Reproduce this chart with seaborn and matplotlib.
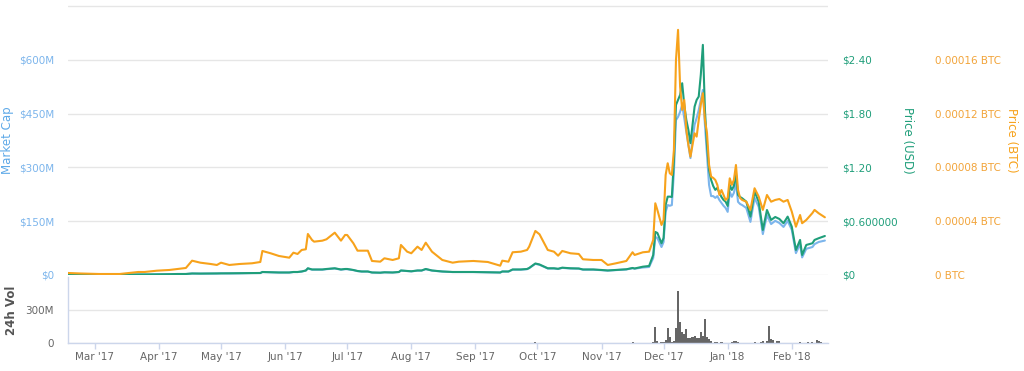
import pandas as pd
import numpy as np
import matplotlib
matplotlib.use("Agg")
import matplotlib.pyplot as plt
import matplotlib.dates as mdates
import seaborn as sns

# --- data ---
dates = [
    "2017-02-16", "2017-02-22", "2017-03-03", "2017-03-13", "2017-03-22", "2017-03-25", "2017-03-31",
    "2017-04-06", "2017-04-10", "2017-04-14", "2017-04-17", "2017-04-21", "2017-04-26", "2017-04-29",
    "2017-05-01", "2017-05-05", "2017-05-10", "2017-05-16", "2017-05-20", "2017-05-21", "2017-05-25", "2017-05-29",
    "2017-06-03", "2017-06-05", "2017-06-07", "2017-06-09", "2017-06-11", "2017-06-12", "2017-06-14",
    "2017-06-15", "2017-06-19", "2017-06-21", "2017-06-25", "2017-06-28", "2017-06-30",
    "2017-07-01", "2017-07-04", "2017-07-06", "2017-07-08", "2017-07-11", "2017-07-13", "2017-07-17",
    "2017-07-19", "2017-07-23", "2017-07-26", "2017-07-27", "2017-07-30",
    "2017-08-01", "2017-08-04", "2017-08-06", "2017-08-08", "2017-08-11", "2017-08-16", "2017-08-21",
    "2017-08-24", "2017-08-31",
    "2017-09-07", "2017-09-13", "2017-09-14", "2017-09-17", "2017-09-19", "2017-09-23", "2017-09-26",
    "2017-09-27", "2017-09-30",
    "2017-10-02", "2017-10-06", "2017-10-09", "2017-10-11", "2017-10-13", "2017-10-17", "2017-10-21",
    "2017-10-23", "2017-10-28",
    "2017-11-01", "2017-11-04", "2017-11-08", "2017-11-13", "2017-11-16", "2017-11-17", "2017-11-21",
    "2017-11-24", "2017-11-26", "2017-11-27", "2017-11-28", "2017-11-30",
    "2017-12-01", "2017-12-02", "2017-12-03", "2017-12-04", "2017-12-05", "2017-12-06", "2017-12-07",
    "2017-12-08", "2017-12-09", "2017-12-10", "2017-12-11", "2017-12-12", "2017-12-13", "2017-12-14",
    "2017-12-15", "2017-12-16", "2017-12-17", "2017-12-18", "2017-12-19", "2017-12-20", "2017-12-21",
    "2017-12-22", "2017-12-23", "2017-12-24", "2017-12-25", "2017-12-26", "2017-12-27", "2017-12-28",
    "2017-12-29", "2017-12-30", "2017-12-31",
    "2018-01-01", "2018-01-02", "2018-01-03", "2018-01-04", "2018-01-05", "2018-01-06", "2018-01-07",
    "2018-01-08", "2018-01-10", "2018-01-12", "2018-01-14", "2018-01-16", "2018-01-18", "2018-01-20",
    "2018-01-22", "2018-01-24", "2018-01-26", "2018-01-28", "2018-01-30",
    "2018-02-01", "2018-02-03", "2018-02-05", "2018-02-06", "2018-02-08", "2018-02-11", "2018-02-12",
    "2018-02-14", "2018-02-17",
]

# market cap in millions of USD
market_cap_m = [
    1.1, 1.1, 0.9, 0.9, 1.1, 1.4, 1.6,
    2.2, 2.7, 2.7, 4.0, 3.8, 4.0, 4.0,
    4.6, 4.3, 4.6, 5.4, 5.4, 8.1, 7.3, 6.8,
    6.8, 8.1, 8.1, 9.5, 12.2, 18.1, 14.9, 14.9, 14.9, 16.2, 18.1, 14.9, 16.2,
    16.2, 13.5, 10.8, 9.5, 9.5, 6.8, 6.2, 7.3, 6.8, 8.1, 12.2, 10.8,
    10.0, 12.2, 12.2, 16.2, 12.2, 9.5, 8.1, 8.1, 8.1,
    7.3, 6.8, 9.5, 9.5, 14.9, 14.9, 16.2, 18.9, 31.1,
    28.4, 18.1, 18.1, 16.7, 19.7, 18.1, 17.6, 14.9, 14.9,
    13.5, 12.2, 13.5, 15.4, 18.9, 17.6, 20.9, 22.3, 47.4, 106, 103, 78,
    92, 176, 195, 193, 195, 287, 432, 441, 455, 474, 438, 399, 363, 326, 377, 419,
    438, 460, 488, 516, 419, 335, 251, 220, 220, 215, 220, 209, 201, 193, 187,
    176, 232, 218, 229, 259, 204, 198, 195, 187, 148, 215, 190, 114, 167, 142, 151, 145, 134, 151,
    126, 61, 86, 49, 73, 78, 86, 92, 96,
]

price_usd = [
    0.0045, 0.0045, 0.0039, 0.0039, 0.0045, 0.0056, 0.0067,
    0.0089, 0.0112, 0.0112, 0.0167, 0.0156, 0.0167, 0.0167,
    0.0190, 0.0179, 0.0190, 0.0223, 0.0223, 0.0335, 0.0301, 0.0279,
    0.0279, 0.0335, 0.0335, 0.0391, 0.0502, 0.0748, 0.0614, 0.0614, 0.0614, 0.0670, 0.0748, 0.0614, 0.0670,
    0.0670, 0.0558, 0.0446, 0.0391, 0.0391, 0.0279, 0.0257, 0.0301, 0.0279, 0.0335, 0.0502, 0.0446,
    0.0413, 0.0502, 0.0502, 0.0670, 0.0502, 0.0391, 0.0335, 0.0335, 0.0335,
    0.0301, 0.0279, 0.0391, 0.0391, 0.0614, 0.0614, 0.0670, 0.0781, 0.1283,
    0.1172, 0.0748, 0.0748, 0.0692, 0.0815, 0.0748, 0.0725, 0.0614, 0.0614,
    0.0558, 0.0502, 0.0558, 0.0636, 0.0781, 0.0725, 0.0926, 0.1004, 0.2232, 0.480, 0.469, 0.354,
    0.413, 0.781, 0.874, 0.874, 0.870, 1.283, 1.897, 1.953, 2.009, 2.139, 1.897, 1.730, 1.618, 1.470,
    1.674, 1.878, 1.953, 1.990, 2.232, 2.567, 1.841, 1.451, 1.172, 1.060, 0.993, 0.949, 0.971, 0.915,
    0.870, 0.837, 0.818,
    0.770, 1.004, 0.949, 0.993, 1.135, 0.893, 0.870, 0.856, 0.818, 0.651, 0.930, 0.818, 0.502, 0.725,
    0.614, 0.647, 0.625, 0.577, 0.651,
    0.539, 0.279, 0.391, 0.223, 0.335, 0.354, 0.391, 0.410, 0.435,
]

# price in satoshi (1e-8 BTC)
price_sat = [
    149, 112, 74, 74, 223, 223, 320,
    372, 446, 521, 1064, 915, 818, 744,
    915, 744, 818, 870, 967, 1786, 1614, 1414,
    1287, 1659, 1562, 1860, 1912, 3050, 2604, 2478, 2552, 2656, 3147, 2552, 2976,
    2976, 2358, 1808, 1808, 1808, 1042, 990, 1242, 1116, 1242, 2232, 1734,
    1614, 2106, 1860, 2403, 1734, 1116, 915, 990, 1042,
    967, 692, 1064, 990, 1689, 1734, 1860, 2106, 3274,
    3028, 1860, 1734, 1436, 1786, 1614, 1562, 1168, 1116,
    1116, 744, 870, 1042, 1689, 1488, 1689, 1734, 2604, 5334, 4836, 3720,
    4092, 7440, 8310, 7566, 7440, 9300, 16000, 18230, 14010, 12280, 13020, 10790, 9670, 8800,
    9670, 10540, 10290, 11530, 12650, 13520, 11530, 10540, 8180, 7310, 7220, 7070, 6700, 5950,
    6320, 5950, 5580,
    5730, 7190, 6700, 7070, 8180, 6320, 5730, 5580, 5450, 4840, 6450, 5830, 4840, 5950,
    5450, 5580, 5650, 5450, 5580,
    4710, 3590, 4460, 3850, 4090, 4610, 4840, 4590, 4290,
]

# 24h volume bars that are visible (millions)
vol_dates = [
    "2017-09-30", "2017-11-16", "2017-11-26", "2017-11-27", "2017-11-28", "2017-11-30", "2017-12-01",
    "2017-12-02", "2017-12-03", "2017-12-04", "2017-12-05", "2017-12-06", "2017-12-07", "2017-12-08",
    "2017-12-09", "2017-12-10", "2017-12-11", "2017-12-12", "2017-12-13", "2017-12-14", "2017-12-15",
    "2017-12-16", "2017-12-17", "2017-12-18", "2017-12-19", "2017-12-20", "2017-12-21", "2017-12-22",
    "2017-12-23", "2017-12-24", "2017-12-26", "2017-12-27", "2017-12-29", "2018-01-03", "2018-01-04",
    "2018-01-05", "2018-01-06", "2018-01-14", "2018-01-17", "2018-01-18", "2018-01-20", "2018-01-21",
    "2018-01-22", "2018-01-23", "2018-01-25", "2018-01-26", "2018-02-05", "2018-02-09", "2018-02-11",
    "2018-02-13", "2018-02-14", "2018-02-15",
]
vol_m = [
    5, 6, 10, 147, 20, 5, 8,
    25, 132, 55, 10, 20, 132, 468,
    193, 101, 78, 122, 40, 40, 55,
    60, 40, 40, 101, 60, 214, 55,
    30, 15, 6, 6, 4, 10, 18,
    15, 6, 6, 10, 15, 12, 156,
    30, 25, 18, 15, 6, 4, 10,
    25, 15, 4,
]

# --- styling ---
BLUE = "#7cb5ec"
GREEN = "#1f9e7a"
ORANGE = "#f7a21b"
GRID = "#e6e6e6"
AXIS = "#ccd6eb"

sns.set_style("white")
plt.rcParams["font.family"] = ["DejaVu Sans"]

df = pd.DataFrame({"date": pd.to_datetime(dates), "mcap": market_cap_m,
                   "usd": price_usd, "sat": price_sat})
vol = pd.DataFrame({"date": pd.to_datetime(vol_dates), "vol": vol_m})

x0 = pd.Timestamp("2017-02-16")
x1 = pd.Timestamp("2018-02-18 10:00")

fig = plt.figure(figsize=(10.24, 3.71), dpi=100)
ax = fig.add_axes([0.0664, 0.2588, 0.742, 0.7278])
ax_usd = ax.twinx()
ax_btc = ax.twinx()
ax_vol = fig.add_axes([0.0664, 0.0763, 0.742, 0.177])

sns.lineplot(data=df, x="date", y="mcap", ax=ax, color=BLUE, linewidth=1.5)
sns.lineplot(data=df, x="date", y="usd", ax=ax_usd, color=GREEN, linewidth=1.5)
sns.lineplot(data=df, x="date", y="sat", ax=ax_btc, color=ORANGE, linewidth=1.5)

for a in (ax, ax_usd, ax_btc):
    a.set_xlim(x0, x1)
    a.set_xlabel("")
    a.tick_params(axis="x", bottom=False, labelbottom=False)
    for s in a.spines.values():
        s.set_visible(False)

# market cap axis
ax.set_ylim(0, 753)
ax.set_yticks([0, 150, 300, 450, 600, 750])
ax.set_yticklabels(["$0", "$150M", "$300M", "$450M", "$600M", ""])
ax.tick_params(axis="y", length=0, pad=10, labelsize=7.5, labelcolor=BLUE)
ax.grid(axis="y", color=GRID, linewidth=1)
ax.set_ylabel("Market Cap", color="#5ea9e8", fontsize=8.5)
ax.yaxis.set_label_coords(-0.071, 0.5)

# price USD axis
ax_usd.set_ylim(0, 3.012)
ax_usd.set_yticks([0, 0.6, 1.2, 1.8, 2.4])
ax_usd.set_yticklabels(["$0", "$0.600000", "$1.20", "$1.80", "$2.40"])
ax_usd.tick_params(axis="y", length=0, pad=10, labelsize=7.5, labelcolor=GREEN)
ax_usd.set_ylabel("Price (USD)", color=GREEN, fontsize=8.5, rotation=270, va="center")
ax_usd.yaxis.set_label_coords(1.105, 0.5)

# price BTC axis
ax_btc.set_ylim(0, 20080)
ax_btc.set_yticks([0, 4000, 8000, 12000, 16000])
ax_btc.set_yticklabels(["0 BTC", "0.00004 BTC", "0.00008 BTC", "0.00012 BTC", "0.00016 BTC"])
ax_btc.tick_params(axis="y", length=0, pad=77, labelsize=7.5, labelcolor="#f2a43a")
ax_btc.set_ylabel("Price (BTC)", color=ORANGE, fontsize=8.5, rotation=270, va="center")
ax_btc.yaxis.set_label_coords(1.242, 0.5)

# volume panel
ax_vol.bar(vol["date"], vol["vol"], width=1.0, color="#666666", linewidth=0)
ax_vol.set_xlim(x0, x1)
ax_vol.set_ylim(0, 600)
ax_vol.set_yticks([0, 300])
ax_vol.set_yticklabels(["0", "300M"])
ax_vol.grid(axis="y", color=GRID, linewidth=1)
ax_vol.set_axisbelow(True)
ax_vol.tick_params(axis="y", length=0, pad=10, labelsize=7.5, labelcolor="#666666")
ax_vol.set_ylabel("24h Vol", color="#555555", fontsize=8.5, fontweight="bold")
ax_vol.yaxis.set_label_coords(-0.066, 0.5)
for side in ("top", "right"):
    ax_vol.spines[side].set_visible(False)
for side in ("left", "bottom"):
    ax_vol.spines[side].set_color(AXIS)
    ax_vol.spines[side].set_linewidth(1)
ax_vol.xaxis.set_major_locator(mdates.MonthLocator())
ax_vol.xaxis.set_major_formatter(mdates.DateFormatter("%b '%y"))
ax_vol.tick_params(axis="x", length=4.5, width=1, color=AXIS, pad=2,
                   labelsize=7.5, labelcolor="#666666", bottom=True)

fig.savefig("out.png", dpi=100)
